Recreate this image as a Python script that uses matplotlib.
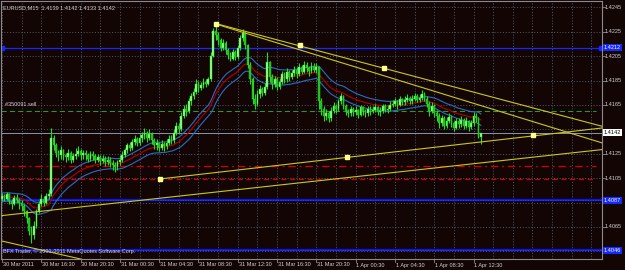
import matplotlib
matplotlib.use("Agg")
import matplotlib.pyplot as plt
import numpy as np
import pandas as pd
from matplotlib import transforms

# ---------------- data (prices in pips above 1.4000) ----------------
BASE = 1.4000
first_open = 88
close_p = [90, 88, 92, 86, 84, 89, 87, 85, 82, 78, 72, 62, 58, 66, 78, 84, 88, 85, 90, 92,
           138, 132, 126, 124, 128, 124, 122, 126, 120, 123, 125, 127, 124, 126, 124, 121, 125, 123, 120, 122,
           119, 121, 118, 120, 117, 116, 114, 118, 120, 124, 128, 132, 130, 135, 137, 134, 138, 140, 142, 138,
           141, 136, 132, 134, 130, 133, 131, 134, 137, 136, 142, 148, 145, 156, 162, 160, 168, 172, 176, 182,
           179, 181, 184, 182, 186, 205, 226, 222, 218, 212, 216, 210, 206, 203, 208, 204, 212, 220, 224, 214,
           198, 186, 170, 166, 174, 178, 175, 180, 200, 188, 182, 186, 180, 184, 190, 186, 192, 188, 191, 194,
           190, 196, 192, 198, 195, 193, 197, 194, 196, 168, 162, 156, 158, 154, 160, 164, 162, 168, 172, 164,
           160, 158, 162, 159, 161, 157, 163, 160, 158, 162, 160, 161, 163, 159, 160, 164, 161, 162, 165, 166,
           168, 165, 170, 167, 169, 171, 168, 170, 172, 169, 171, 174, 170, 166, 160, 164, 158, 156, 150, 154,
           148, 152, 155, 150, 146, 152, 149, 153, 148, 152, 147, 150, 156, 154, 139, 142]
high_p = [93, 92, 94, 93, 88, 91, 92, 89, 87, 84, 79, 73, 66, 70, 80, 86, 92, 90, 93, 96,
          146, 140, 134, 128, 131, 129, 126, 129, 127, 126, 130, 131, 129, 128, 128, 126, 127, 127, 125, 125,
          124, 124, 123, 123, 122, 120, 118, 120, 124, 127, 130, 134, 135, 137, 140, 139, 141, 143, 146, 144,
          145, 143, 138, 137, 135, 136, 135, 137, 140, 140, 145, 151, 150, 159, 165, 166, 171, 175, 179, 186,
          185, 184, 187, 186, 188, 208, 228, 231, 225, 220, 219, 217, 212, 208, 211, 210, 214, 222, 227, 225,
          215, 200, 188, 174, 177, 181, 180, 183, 208, 201, 190, 189, 188, 187, 193, 192, 195, 194, 194, 197,
          196, 199, 198, 201, 200, 197, 200, 199, 199, 197, 171, 164, 162, 160, 163, 167, 166, 170, 175, 173,
          166, 162, 164, 163, 164, 162, 165, 164, 162, 164, 164, 164, 166, 164, 163, 166, 166, 165, 168, 169,
          171, 169, 172, 171, 172, 174, 172, 173, 175, 174, 174, 177, 176, 172, 168, 167, 166, 161, 158, 157,
          156, 155, 158, 157, 152, 154, 154, 156, 154, 155, 153, 153, 159, 158, 155, 142]
low_p = [86, 86, 87, 84, 80, 83, 85, 80, 78, 74, 68, 58, 52, 55, 64, 76, 82, 82, 84, 88,
         90, 128, 122, 119, 121, 120, 118, 120, 117, 118, 121, 123, 120, 121, 120, 118, 119, 120, 117, 118,
         116, 117, 115, 116, 114, 112, 110, 112, 116, 118, 122, 126, 127, 128, 132, 131, 132, 135, 137, 135,
         136, 133, 129, 128, 127, 128, 127, 129, 132, 133, 134, 140, 142, 144, 154, 156, 158, 165, 170, 174,
         176, 177, 179, 180, 181, 185, 204, 218, 214, 209, 210, 207, 203, 201, 202, 202, 203, 210, 217, 211,
         195, 182, 166, 162, 164, 171, 172, 173, 178, 184, 178, 180, 177, 178, 182, 183, 184, 185, 186, 189,
         187, 189, 190, 191, 192, 189, 191, 192, 191, 162, 157, 152, 153, 151, 152, 158, 158, 160, 166, 162,
         157, 155, 156, 156, 157, 154, 156, 157, 155, 156, 157, 158, 159, 157, 156, 158, 159, 158, 160, 163,
         164, 162, 164, 165, 165, 167, 166, 166, 168, 167, 167, 169, 168, 163, 156, 158, 155, 152, 146, 148,
         145, 146, 150, 147, 144, 145, 146, 147, 145, 146, 144, 145, 148, 151, 138, 133]

symbol = "EURUSD,M15"
date_labels = ["30 Mar 2011", "30 Mar 16:30", "30 Mar 20:30", "31 Mar 00:30", "31 Mar 04:30",
               "31 Mar 08:30", "31 Mar 12:30", "31 Mar 16:30", "31 Mar 20:30", "1 Apr 00:30",
               "1 Apr 04:30", "1 Apr 08:30", "1 Apr 12:30"]
ytick_vals = [1.4045, 1.4065, 1.4085, 1.4105, 1.4125, 1.4145, 1.4165, 1.4185, 1.4205, 1.4225, 1.4245]
blue_levels = [1.4212, 1.4087, 1.4046]
order_level = 1.4160
order_text = "#350091 sell"
tp_level = 1.4115
sl_level = 1.4104
# trendlines: (bar, price) endpoints
trend_lines = [((87.1, 1.42317), (244.3, 1.41475)),
               ((87.1, 1.42313), (244.3, 1.41339)),
               ((64.3, 1.41043), (244.3, 1.41461)),
               ((0.0, 1.40743), (244.3, 1.41284)),
               ((0.0, 1.40534), (40.0, 1.40350))]
trend_dots = [(87.1, 1.42317), (121.3, 1.42141), (155.5, 1.41952),
              (64.3, 1.41043), (140.5, 1.41225), (216.2, 1.41403)]
copyright_text = "BFX Trader, \u00a9 2001-2011 MetaQuotes Software Corp."

# ---------------- derived ----------------
c = BASE + np.array(close_p) / 10000.0
h = BASE + np.array(high_p) / 10000.0
l = BASE + np.array(low_p) / 10000.0
o = np.concatenate([[BASE + first_open / 10000.0], c[:-1]])
n = len(c)
idx = np.arange(n)

span = 24
ma_hi = pd.Series(h).ewm(span=span, adjust=False).mean().values
ma_c = pd.Series(c).ewm(span=span, adjust=False).mean().values
ma_lo = pd.Series(l).ewm(span=span, adjust=False).mean().values

BG = "#140505"
GRID = "#56677a"
FONT = "Liberation Sans"
TXT = "#d0d0d0"

W, H = 625, 270
fig = plt.figure(figsize=(W / 100, H / 100), dpi=100, facecolor=BG)
L, R, T, B = 1, 602, 1, 259
ax = fig.add_axes([L / W, 1 - B / H, (R - L) / W, (B - T) / H], facecolor=BG)
xmin, xmax = -0.41, 244.3
ymin, ymax = 1.40387, 1.42502
ax.set_xlim(xmin, xmax)
ax.set_ylim(ymin, ymax)
ax.set_xticks([])
ax.set_yticks([])
for s in ax.spines.values():
    s.set_color("#8a8a8a")
    s.set_linewidth(0.8)

# grid
for k in range(0, 31):
    ax.axvline(8 * k, color=GRID, lw=0.6, ls=(0, (1.2, 2.2)), zorder=1)
for yv in ytick_vals:
    ax.axhline(yv, color=GRID, lw=0.6, ls=(0, (1.2, 2.2)), zorder=1)

# horizontal levels
ax.axhline(blue_levels[0], color="#1428ff", lw=0.9, zorder=2)
ax.plot([0.0, xmax - 0.4], [blue_levels[0]] * 2, ls="none", marker="s", ms=2.2, color="#1428ff", zorder=2)
for lv in blue_levels[1:]:
    ax.axhline(lv, color="#0a14e6", lw=1.6, zorder=2)
    ax.axhline(lv, color="#3a4cff", lw=0.6, ls=(0, (1, 1)), zorder=2)
ax.plot([xmin, 242], [order_level] * 2, color="#22a022", lw=0.75, ls=(0, (5, 3)), zorder=2)
ax.plot([xmin, 242], [tp_level] * 2, color="#d00000", lw=0.9, ls=(0, (6, 3, 1.5, 3)), zorder=2)
ax.plot([xmin, 242], [sl_level] * 2, color="#d00000", lw=0.9, ls=(0, (4, 3)), zorder=2)
ax.axhline(c[-1], color="#8497aa", lw=0.7, zorder=2)
ax.text(4 / 2.456 - 0.4, order_level + 0.00035, order_text, fontsize=4, family=FONT,
        color=TXT, va="bottom", ha="left", zorder=6)

# moving averages
ax.plot(idx, ma_hi, color="#2a6cc4", lw=0.8, zorder=3)
ax.plot(idx, ma_lo, color="#2a6cc4", lw=0.8, zorder=3)
ax.plot(idx, ma_c, color="#b00000", lw=0.8, zorder=3)

# candles
ax.vlines(idx, l, h, color="#22dd22", lw=0.8, zorder=4)
up = c >= o
body_b = np.minimum(o, c)
body_h = np.maximum(np.abs(c - o), 0.00004)
ax.bar(idx[up], body_h[up], bottom=body_b[up], width=0.72, color="#9cff94",
       edgecolor="#22dd22", lw=0.3, zorder=4)
ax.bar(idx[~up], body_h[~up], bottom=body_b[~up], width=0.72, color="#22bb22",
       edgecolor="#22dd22", lw=0.3, zorder=4)

# trendlines
for (x0, y0), (x1, y1) in trend_lines:
    ax.plot([x0, x1], [y0, y1], color="#c8c81e", lw=0.8, zorder=5)
ax.plot([p[0] for p in trend_dots], [p[1] for p in trend_dots], ls="none", marker="s",
        ms=2.2, color="#ffff90", zorder=6)

# top-left caption
ax.text(0.003, 0.985, f"{symbol}  {o[-1]:.4f} {h[-1]:.4f} {l[-1]:.4f} {c[-1]:.4f}",
        transform=ax.transAxes, fontsize=4, family=FONT, color=TXT, va="top", ha="left", zorder=7)
ax.text(0.003, 0.018, copyright_text, transform=ax.transAxes, fontsize=4, family=FONT,
        color=TXT, va="bottom", ha="left", zorder=7)

# right axis labels (those hidden under price boxes are skipped, as in the reference)
boxed = blue_levels + [c[-1]]
tr_r = transforms.blended_transform_factory(fig.transFigure, ax.transData)
tr_ax = transforms.blended_transform_factory(ax.transAxes, ax.transData)
for yv in ytick_vals:
    ax.plot([1.0, 1.0 + 3 / (R - L)], [yv, yv], transform=tr_ax,
            color="#8a8a8a", lw=0.6, clip_on=False)
    if min(abs(yv - b) for b in boxed) < 0.00045:
        continue
    fig.text(605 / W, yv, f"{yv:.4f}", transform=tr_r, fontsize=4, family=FONT,
             color=TXT, va="center", ha="left")
for lv in blue_levels:
    fig.text(604 / W, lv, f"{lv:.4f}", transform=tr_r, fontsize=4, family=FONT, color="white",
             va="center", ha="left", zorder=8,
             bbox=dict(boxstyle="square,pad=0.18", fc="#1428ff", ec="none"))
fig.text(604 / W, c[-1], f"{c[-1]:.4f}", transform=tr_r, fontsize=4, family=FONT, color="black",
         va="center", ha="left", zorder=8,
         bbox=dict(boxstyle="square,pad=0.18", fc="white", ec="none"))

# date labels
tr_b = transforms.blended_transform_factory(ax.transData, fig.transFigure)
for k, lab in enumerate(date_labels):
    xb = 16 * k
    ax.plot([xb, xb], [1 - B / H, 1 - (B + 3) / H], transform=tr_b, color="#8a8a8a", lw=0.6, clip_on=False)
    fig.text(xb + 0.3, 1 - 265 / H, lab, transform=tr_b,
             fontsize=4, family=FONT, color=TXT, va="center", ha="left")

fig.savefig("out.png", dpi=100, facecolor=BG)
